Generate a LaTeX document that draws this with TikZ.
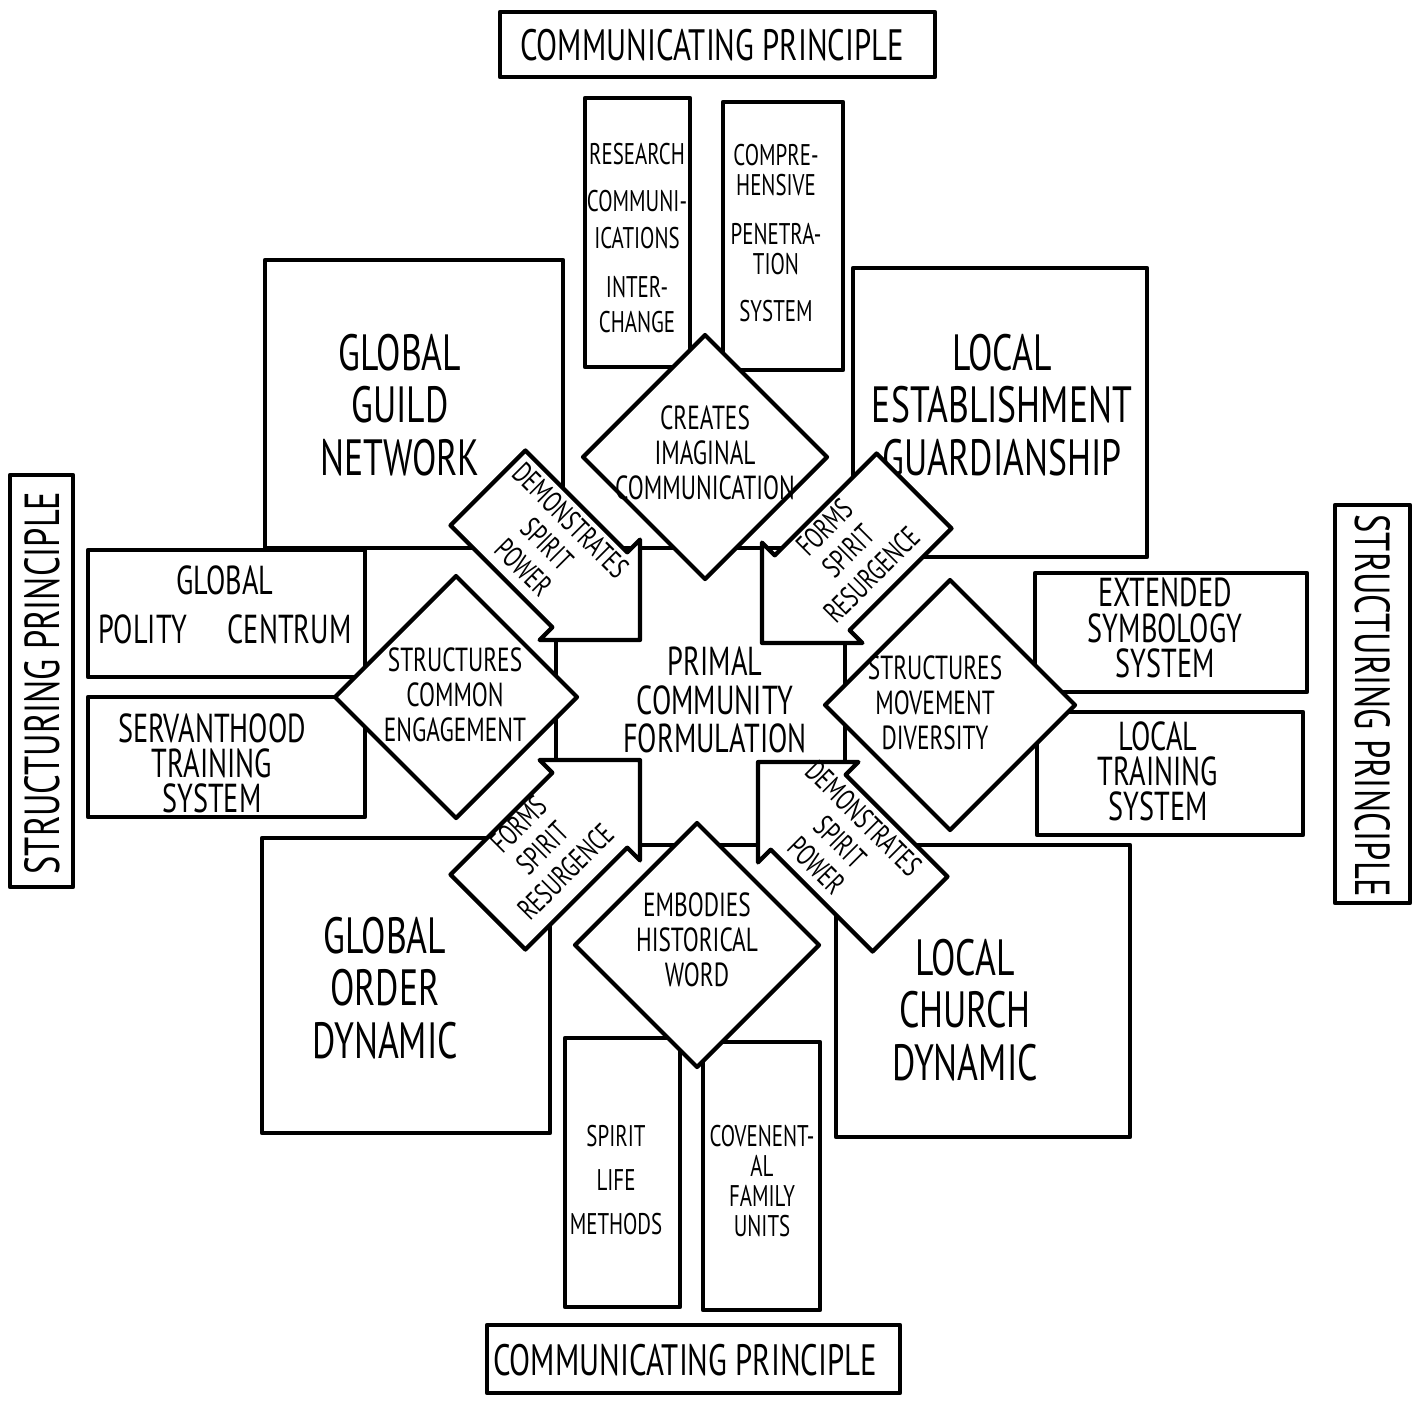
\documentclass[tikz,border=0pt]{standalone}
\usepackage{fontspec}
\setmainfont{PT Sans}[FakeStretch=0.7]

\begin{document}
\begin{tikzpicture}[line width=1.2pt, line join=round,
  panel/.style={fill=white},
  bigtxt/.style={align=center, font=\fontsize{14.5}{15}\selectfont},
  sidetxt/.style={align=center, font=\fontsize{11.5}{10}\selectfont},
  slimtxt/.style={align=center, font=\fontsize{8.5}{8.5}\selectfont},
  diatxt/.style={align=center, font=\fontsize{9.5}{10}\selectfont},
  arrtxt/.style={align=center, font=\fontsize{8.5}{9.5}\selectfont},
  labtxt/.style={font=\fontsize{12.5}{13}\selectfont},
  uptxt/.style={font=\fontsize{14}{14}\selectfont}]
\useasboundingbox (0,0) rectangle (14.17,-14.02);

% principle labels
\draw (5.00,-0.12) rectangle (9.35,-0.77);
\node[labtxt] (commtop) at (7.12,-0.45) {COMMUNICATING PRINCIPLE};
\draw (4.87,-13.25) rectangle (9.00,-13.93);
\node[labtxt] (commbot) at (6.85,-13.60) {COMMUNICATING PRINCIPLE};
\draw (0.10,-4.75) rectangle (0.73,-8.87);
\node[uptxt, rotate=90] (structl) at (0.42,-6.83) {STRUCTURING PRINCIPLE};
\draw (13.35,-5.05) rectangle (14.10,-9.03);
\node[uptxt, rotate=-90] (structr) at (13.73,-7.06) {STRUCTURING PRINCIPLE};

% corner boxes
\draw (2.65,-2.60) rectangle (5.63,-5.48);
\node[bigtxt] (guild) at (4.00,-4.05) {GLOBAL\\GUILD\\NETWORK};
\draw (8.53,-2.68) rectangle (11.47,-5.57);
\node[bigtxt] (guardian) at (10.02,-4.05) {LOCAL\\ESTABLISHMENT\\GUARDIANSHIP};
\draw (2.62,-8.38) rectangle (5.50,-11.33);
\node[bigtxt] (order) at (3.85,-9.88) {GLOBAL\\ORDER\\DYNAMIC};
\draw (8.36,-8.45) rectangle (11.30,-11.37);
\node[bigtxt] (church) at (9.65,-10.10) {LOCAL\\CHURCH\\DYNAMIC};

% side boxes
\draw (0.88,-5.50) rectangle (3.65,-6.77);
\node[sidetxt] (polity) at (2.25,-6.05) {GLOBAL\\[4pt]POLITY\quad CENTRUM};
\draw (0.88,-6.97) rectangle (3.65,-8.17);
\node[sidetxt] (servant) at (2.12,-7.63) {SERVANTHOOD\\TRAINING\\SYSTEM};
\draw (10.35,-5.73) rectangle (13.07,-6.92);
\node[sidetxt] (symbol) at (11.65,-6.28) {EXTENDED\\SYMBOLOGY\\SYSTEM};
\draw (10.37,-7.12) rectangle (13.03,-8.35);
\node[sidetxt] (ltrain) at (11.58,-7.71) {LOCAL\\TRAINING\\SYSTEM};

% top and bottom slim boxes
\draw (5.85,-0.98) rectangle (6.90,-3.67);
\node[slimtxt] (research) at (6.37,-2.38) {RESEARCH\\[5pt]COMMUNI-\\[2pt]ICATIONS\\[5.5pt]INTER-\\[1.5pt]CHANGE};
\draw (7.23,-1.02) rectangle (8.43,-3.70);
\node[slimtxt] (penetr) at (7.76,-2.33) {COMPRE-\\HENSIVE\\[5.5pt]PENETRA-\\TION\\[5pt]SYSTEM};
\draw (5.65,-10.38) rectangle (6.80,-13.07);
\node[slimtxt] (spirit) at (6.16,-11.80) {SPIRIT\\[4pt]LIFE\\[4pt]METHODS};
\draw (7.03,-10.42) rectangle (8.20,-13.10);
\node[slimtxt] (family) at (7.62,-11.81) {COVENENT-\\AL\\FAMILY\\UNITS};

% central square
\draw (5.56,-5.48) rectangle (8.45,-8.45);

% diamonds
\foreach \cx/\cy/\r in {7.05/-4.57/1.22, 4.56/-6.97/1.21, 9.50/-7.05/1.25, 6.97/-9.45/1.22}
  \draw[panel] (\cx,\cy) ++(0,\r) -- ++(\r,-\r) -- ++(-\r,-\r) -- ++(-\r,\r) -- cycle;
\node[diatxt] (creates) at (7.05,-4.53) {CREATES\\IMAGINAL\\COMMUNICATION};
\node[diatxt] (common) at (4.55,-6.95) {STRUCTURES\\COMMON\\ENGAGEMENT};
\node[diatxt] (diverse) at (9.35,-7.03) {STRUCTURES\\MOVEMENT\\DIVERSITY};
\node[diatxt] (embody) at (6.97,-9.40) {EMBODIES\\HISTORICAL\\WORD};

% block arrows
\foreach \tx/\ty/\ang in {6.40/-6.40/-45, 7.62/-6.43/-135, 6.40/-7.60/45, 7.58/-7.62/135}
  \draw[panel, shift={(\tx,\ty)}, rotate=\ang] (0,0) -- (-0.71,0.71) -- (-0.71,0.53)
    -- (-2.15,0.53) -- (-2.15,-0.53) -- (-0.71,-0.53) -- (-0.71,-0.71) -- cycle;
\node[arrtxt, rotate=-45] (powtl) at (5.47,-5.44) {DEMONSTRATES\\SPIRIT\\POWER};
\node[arrtxt, rotate=45] (restr) at (8.48,-5.51) {FORMS\\SPIRIT\\RESURGENCE};
\node[arrtxt, rotate=45] (resbl) at (5.42,-8.48) {FORMS\\SPIRIT\\RESURGENCE};
\node[arrtxt, rotate=-45] (powbr) at (8.40,-8.42) {DEMONSTRATES\\SPIRIT\\POWER};

% centre
\node[align=center, font=\fontsize{11.5}{11}\selectfont] (primal) at (7.15,-7.00) {PRIMAL\\COMMUNITY\\FORMULATION};
\end{tikzpicture}
\end{document}
